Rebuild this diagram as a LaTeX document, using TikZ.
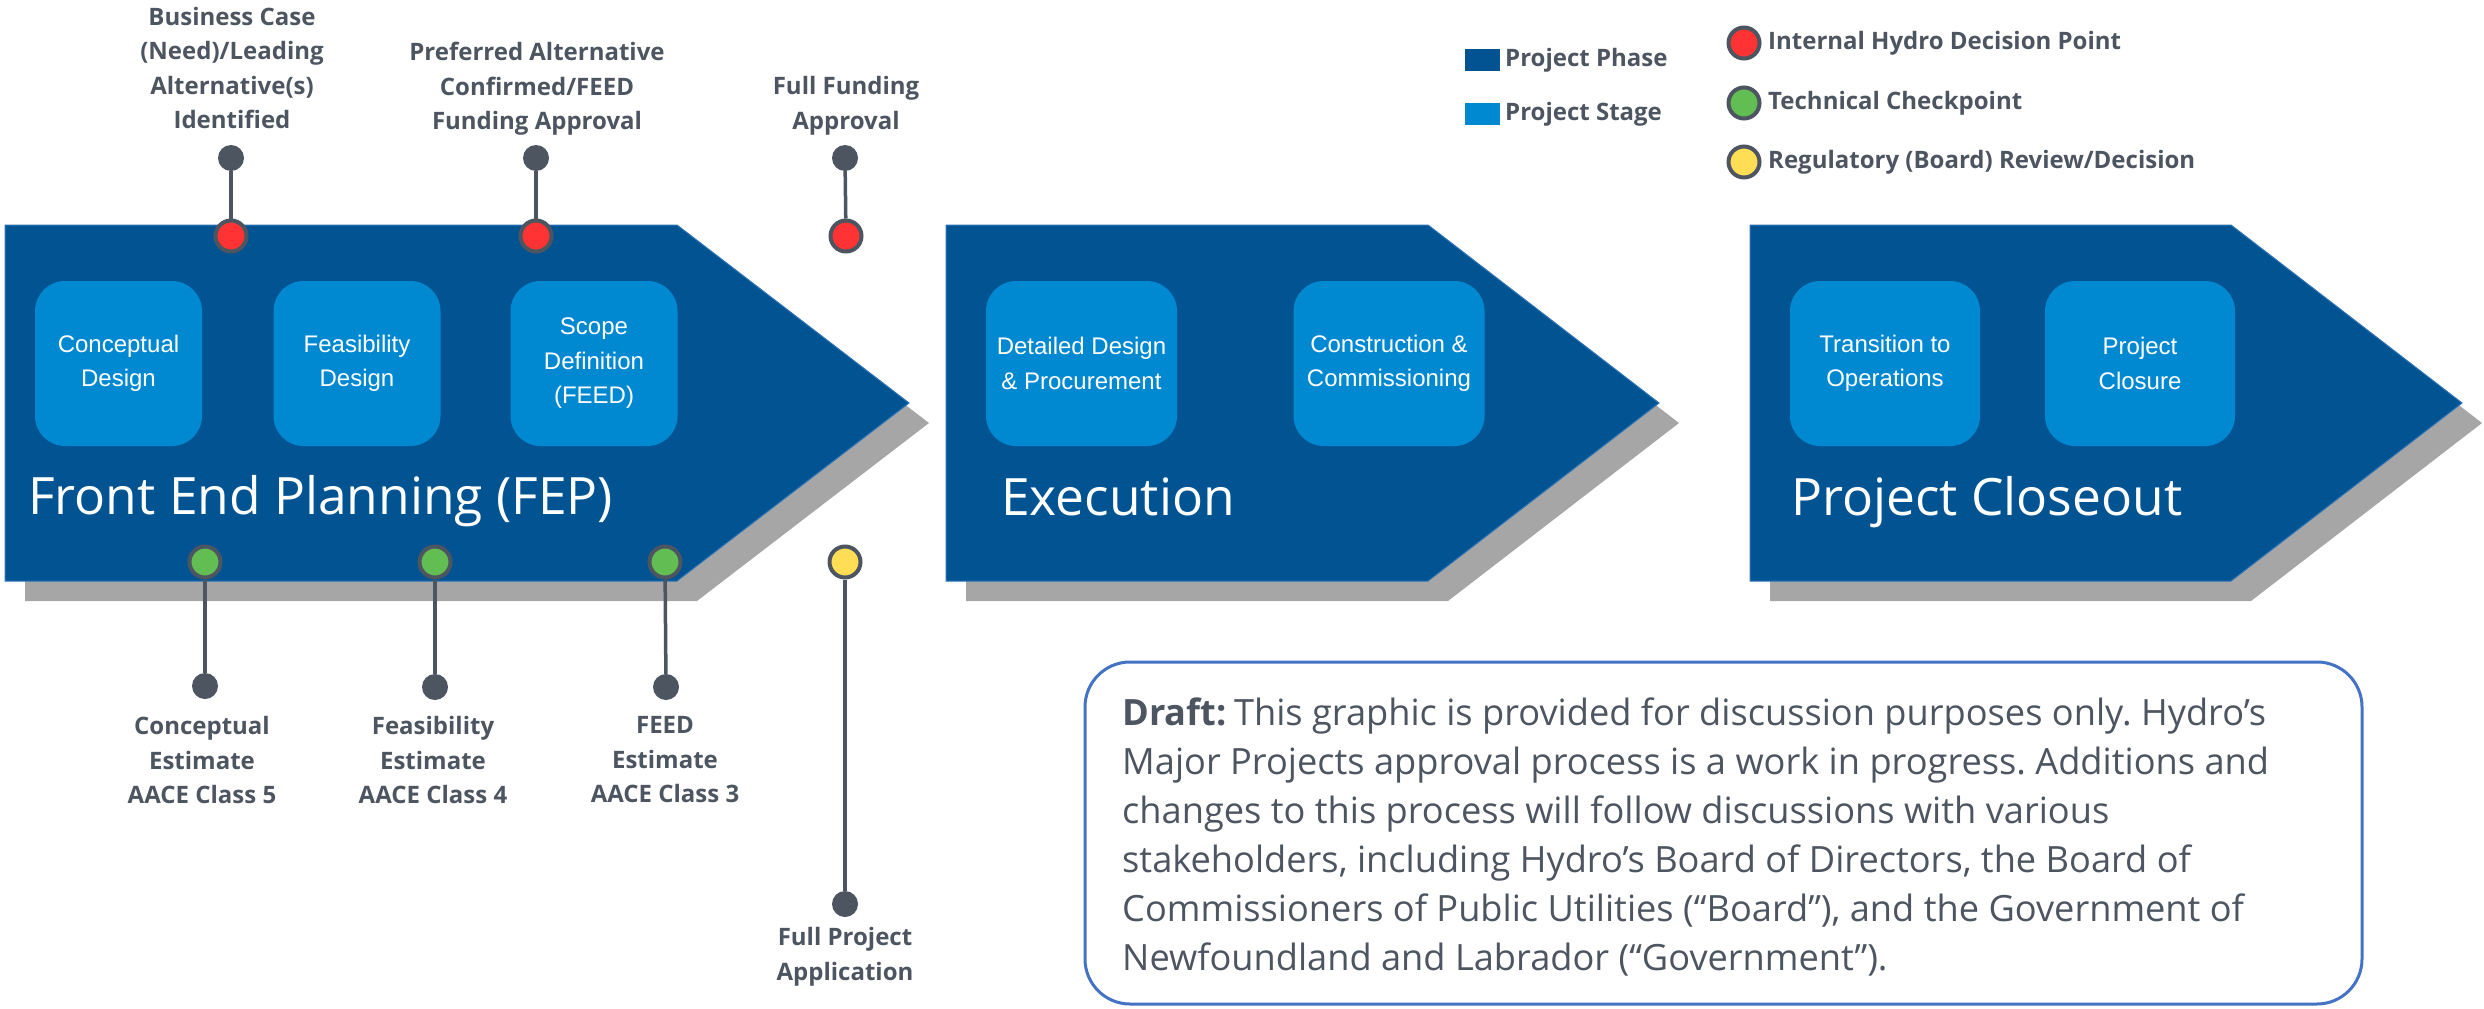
\documentclass[tikz,border=0pt]{standalone}
\usepackage{fontspec}
\setmainfont{Open Sans}
\newfontfamily\boxfont{Liberation Sans}
\frenchspacing
\definecolor{phaseblue}{RGB}{2,83,145}
\definecolor{phaseedge}{RGB}{46,117,182}
\definecolor{stageblue}{RGB}{0,136,209}
\definecolor{shadowgray}{RGB}{166,166,166}
\definecolor{pingray}{RGB}{77,85,97}
\definecolor{decisionred}{RGB}{255,51,51}
\definecolor{checkgreen}{RGB}{98,189,82}
\definecolor{boardyellow}{RGB}{255,221,85}
\definecolor{draftblue}{RGB}{68,114,196}

\begin{document}
\begin{tikzpicture}[x=1pt,y=-1pt]
	\tikzset{
		stagebox/.style={shape=rectangle,rounded corners=30pt,fill=stageblue,text=white,align=center,font=\boxfont\fontsize{24}{34.5}\selectfont,minimum height=165pt,inner sep=0pt},
		pinlabel/.style={draw=none,text=pingray,align=center,font=\bfseries\fontsize{24}{34.5}\selectfont,inner sep=0pt},
		pinend/.style={shape=circle,fill=pingray,minimum size=26pt,inner sep=0pt},
		milestone/.style={shape=circle,draw=pingray,line width=4pt,minimum size=31pt,inner sep=0pt},
		phasetitle/.style={text=white,font=\fontsize{51.5}{60}\selectfont,inner sep=0pt,anchor=base west},
		pinline/.style={draw=pingray,line width=3.5pt}
	}
	\useasboundingbox (0,0) rectangle (2484,1009);

	% phases
	\fill[shadowgray] (25,245) -- (697,245) -- (929,423) -- (697,601) -- (25,601) -- cycle;
	\filldraw[fill=phaseblue,draw=phaseedge,line width=1pt] (5,225) -- (677,225) -- (909,403) -- (677,581) -- (5,581) -- cycle;
	\fill[shadowgray] (966,245) -- (1448,245) -- (1679,423) -- (1448,601) -- (966,601) -- cycle;
	\filldraw[fill=phaseblue,draw=phaseedge,line width=1pt] (946,225) -- (1428,225) -- (1659,403) -- (1428,581) -- (946,581) -- cycle;
	\fill[shadowgray] (1770,245) -- (2251,245) -- (2482,423) -- (2251,601) -- (1770,601) -- cycle;
	\filldraw[fill=phaseblue,draw=phaseedge,line width=1pt] (1750,225) -- (2231,225) -- (2462,403) -- (2231,581) -- (1750,581) -- cycle;

	\node[phasetitle] (fep) at (28,514) {Front End Planning (FEP)};
	\node[phasetitle] (exec) at (1001,515) {Execution};
	\node[phasetitle] (closeout) at (1791,515) {Project Closeout};

	% stages
	\node[stagebox,minimum width=167pt] (concept) at (118.5,363.5) {Conceptual\\Design};
	\node[stagebox,minimum width=167pt] (feas) at (357,363.5) {Feasibility\\Design};
	\node[stagebox,minimum width=167pt] (scope) at (594,363.5) {Scope\\Definition\\(FEED)};
	\node[stagebox,minimum width=191pt] (detail) at (1081.5,363.5) {Detailed Design\\\& Procurement};
	\node[stagebox,minimum width=191pt] (constr) at (1389,363.5) {Construction \&\\Commissioning};
	\node[stagebox,minimum width=190pt] (trans) at (1885,363.5) {Transition to\\Operations};
	\node[stagebox,minimum width=190pt] (closure) at (2140,363.5) {Project\\Closure};

	% decision points above
	\node[pinend] (bcend) at (231,158) {};
	\node[milestone,fill=decisionred] (bcdot) at (231,236) {};
	\draw[pinline] (bcend) -- (bcdot);
	\node[pinlabel] (bclabel) at (232,68) {Business Case\\(Need)/Leading\\Alternative(s)\\Identified};

	\node[pinend] (paend) at (536,158) {};
	\node[milestone,fill=decisionred] (padot) at (536,236) {};
	\draw[pinline] (paend) -- (padot);
	\node[pinlabel] (palabel) at (537,89) {Preferred Alternative\\Confirmed/FEED\\Funding Approval};

	\node[pinend] (ffend) at (845,158) {};
	\node[milestone,fill=decisionred] (ffdot) at (846,236) {};
	\draw[pinline] (ffend) -- (ffdot);
	\node[pinlabel] (fflabel) at (846,106) {Full Funding\\Approval};

	% checkpoints below
	\node[milestone,fill=checkgreen] (cedot) at (205,562) {};
	\node[pinend] (ceend) at (205,686) {};
	\draw[pinline] (cedot) -- (ceend);
	\node[pinlabel] (celabel) at (202,760) {Conceptual\\Estimate\\AACE Class 5};

	\node[milestone,fill=checkgreen] (fedot) at (435,562) {};
	\node[pinend] (feend) at (435,687) {};
	\draw[pinline] (fedot) -- (feend);
	\node[pinlabel] (felabel) at (433,760) {Feasibility\\Estimate\\AACE Class 4};

	\node[milestone,fill=checkgreen] (fddot) at (665,562) {};
	\node[pinend] (fdend) at (666,687) {};
	\draw[pinline] (fddot) -- (fdend);
	\node[pinlabel] (fdlabel) at (665,760) {FEED\\Estimate\\AACE Class 3};

	\node[milestone,fill=boardyellow] (fpdot) at (845,562) {};
	\node[pinend] (fpend) at (845,904) {};
	\draw[pinline] (fpdot) -- (fpend);
	\node[pinlabel] (fplabel) at (845,957) {Full Project\\Application};

	% legend
	\node[shape=rectangle,fill=phaseblue,minimum width=35pt,minimum height=22pt,inner sep=0pt] (phasekey) at (1482.5,60) {};
	\node[pinlabel,anchor=west] (phasetext) at (1505,60) {Project Phase};
	\node[shape=rectangle,fill=stageblue,minimum width=35pt,minimum height=22pt,inner sep=0pt] (stagekey) at (1482.5,113.5) {};
	\node[pinlabel,anchor=west] (stagetext) at (1505,114) {Project Stage};

	\node[milestone,fill=decisionred] (redkey) at (1744,43) {};
	\node[pinlabel,anchor=west] (redtext) at (1768,43) {Internal Hydro Decision Point};
	\node[milestone,fill=checkgreen] (greenkey) at (1744,103) {};
	\node[pinlabel,anchor=west] (greentext) at (1768,103) {Technical Checkpoint};
	\node[milestone,fill=boardyellow] (yellowkey) at (1744,162) {};
	\node[pinlabel,anchor=west] (yellowtext) at (1768,162) {Regulatory (Board) Review/Decision};

	% draft note
	\node[draw=draftblue,line width=3pt,rounded corners=45pt,minimum width=1277pt,minimum height=342pt] (draftbox) at (1723.5,833) {};
	\node[text=pingray,align=left,anchor=west,font=\fontsize{36.2}{49}\selectfont,inner sep=0pt] (drafttext) at (1122,837) {\textbf{Draft:}\hspace{-2pt} This graphic is provided for discussion purposes only. Hydro’s\\Major Projects approval process is a work in progress. Additions and\\changes to this process will follow discussions with various\\stakeholders, including Hydro’s Board of Directors, the Board of\\Commissioners of Public Utilities (“Board”), and the Government of\\Newfoundland and Labrador (“Government”).};

\end{tikzpicture}
\end{document}
